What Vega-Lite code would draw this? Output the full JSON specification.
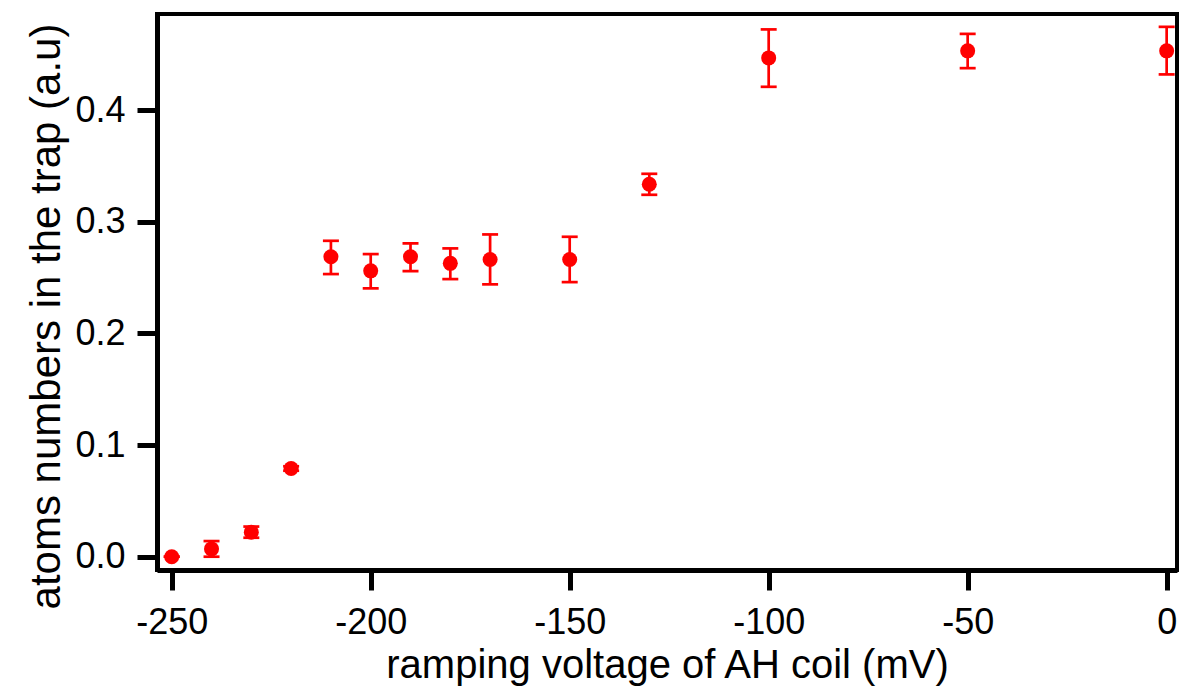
{
  "$schema": "https://vega.github.io/schema/vega-lite/v6.json",
  "width": 1020,
  "height": 556,
  "autosize": "none",
  "padding": {"left": 157, "top": 14, "right": 3, "bottom": 122},
  "background": "white",
  "config": {
    "view": {"stroke": "black", "strokeWidth": 4}
  },
  "data": {"values": [
    {"v": -250, "n": 0.000, "lo": 0.000, "hi": 0.000},
    {"v": -240, "n": 0.007, "lo": 0.0, "hi": 0.014},
    {"v": -230, "n": 0.022, "lo": 0.017, "hi": 0.027},
    {"v": -220, "n": 0.079, "lo": 0.077, "hi": 0.081},
    {"v": -210, "n": 0.2686, "lo": 0.2531, "hi": 0.2829},
    {"v": -200, "n": 0.2560, "lo": 0.2403, "hi": 0.2710},
    {"v": -190, "n": 0.2686, "lo": 0.2558, "hi": 0.2806},
    {"v": -180, "n": 0.2627, "lo": 0.2486, "hi": 0.2761},
    {"v": -170, "n": 0.2662, "lo": 0.2439, "hi": 0.2886},
    {"v": -150, "n": 0.2662, "lo": 0.2459, "hi": 0.2865},
    {"v": -130, "n": 0.3335, "lo": 0.3241, "hi": 0.3429},
    {"v": -100, "n": 0.4467, "lo": 0.4208, "hi": 0.4722},
    {"v": -50, "n": 0.4530, "lo": 0.4375, "hi": 0.4682},
    {"v": 0, "n": 0.4530, "lo": 0.4319, "hi": 0.4745}
  ]},
  "encoding": {
    "x": {"field": "v", "type": "quantitative",
      "scale": {"domain": [-253.7, 2.6], "nice": false, "zero": false},
      "axis": {"values": [-250, -200, -150, -100, -50, 0], "labelExpr": "replace(format(datum.value, 'd'), '−', '-')",
        "title": "ramping voltage of AH coil (mV)", "grid": false,
        "domainColor": "black", "domainWidth": 5, "tickColor": "black", "tickWidth": 5, "tickSize": 20,
        "labelFont": "Liberation Sans", "labelFontSize": 36, "labelColor": "black", "labelPadding": 15,
        "titleFont": "Liberation Sans", "titleFontSize": 40, "titleFontWeight": "normal", "titleColor": "black", "titlePadding": 5}}
  },
  "layer": [
    {"mark": {"type": "rule", "color": "#ff0000", "strokeWidth": 2.7},
     "encoding": {
       "y": {"field": "lo", "type": "quantitative",
         "scale": {"domain": [-0.0119, 0.486], "nice": false, "zero": false},
         "axis": {"values": [0, 0.1, 0.2, 0.3, 0.4], "format": ".1f", "title": "atoms numbers in the trap (a.u)", "grid": false,
           "domainColor": "black", "domainWidth": 5, "tickColor": "black", "tickWidth": 5, "tickSize": 20,
           "labelFont": "Liberation Sans", "labelFontSize": 36, "labelColor": "black", "labelPadding": 12,
           "titleFont": "Liberation Sans", "titleFontSize": 42, "titleFontWeight": "normal", "titleColor": "black", "titlePadding": 6, "titleY": 302}},
       "y2": {"field": "hi"}}},
    {"mark": {"type": "tick", "color": "#ff0000", "orient": "horizontal", "size": 16, "thickness": 2.7, "opacity": 1},
     "encoding": {"y": {"field": "lo", "type": "quantitative"}}},
    {"mark": {"type": "tick", "color": "#ff0000", "orient": "horizontal", "size": 16, "thickness": 2.7, "opacity": 1},
     "encoding": {"y": {"field": "hi", "type": "quantitative"}}},
    {"mark": {"type": "point", "filled": true, "color": "#ff0000", "size": 225, "opacity": 1},
     "encoding": {"y": {"field": "n", "type": "quantitative"}}}
  ]
}
